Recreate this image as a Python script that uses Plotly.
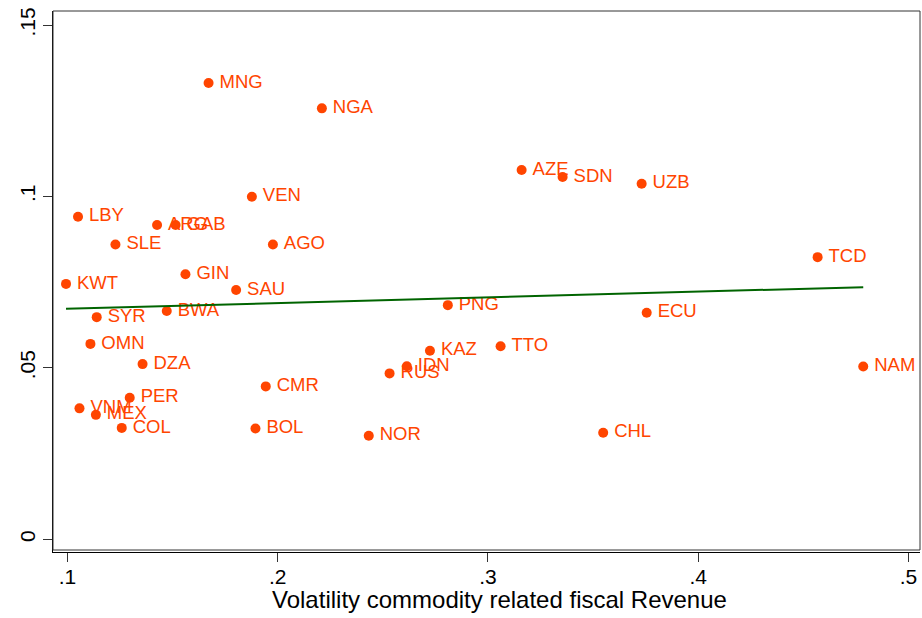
import numpy as np
import plotly.graph_objects as go

countries = ["MNG", "VEN", "LBY", "ARG", "GAB", "SLE", "AGO", "GIN", "KWT", "SAU",
             "BWA", "SYR", "OMN", "DZA", "CMR", "PER", "VNM", "MEX", "COL", "BOL",
             "NGA", "AZE", "SDN", "PNG", "KAZ", "TTO", "IDN", "RUS", "NOR", "CHL",
             "UZB", "TCD", "ECU", "NAM"]
volatility = [0.1671, 0.1877, 0.1050, 0.1426, 0.1514, 0.1228, 0.1977, 0.1561, 0.0993, 0.1802,
              0.1472, 0.1139, 0.1109, 0.1357, 0.1943, 0.1296, 0.1057, 0.1135, 0.1258, 0.1894,
              0.2210, 0.3160, 0.3355, 0.2809, 0.2724, 0.3060, 0.2614, 0.2532, 0.2433, 0.3548,
              0.3731, 0.4568, 0.3755, 0.4785]
yvalue = [0.1331, 0.0999, 0.0941, 0.0917, 0.0917, 0.0860, 0.0860, 0.0773, 0.0745, 0.0727,
          0.0666, 0.0648, 0.0570, 0.0511, 0.0446, 0.0413, 0.0382, 0.0363, 0.0325, 0.0323,
          0.1257, 0.1077, 0.1057, 0.0683, 0.0550, 0.0563, 0.0505, 0.0484, 0.0302, 0.0311,
          0.1037, 0.0823, 0.0661, 0.0504]

x_ticks = [0.1, 0.2, 0.3, 0.4, 0.5]
x_ticklabels = [".1", ".2", ".3", ".4", ".5"]
y_ticks = [0, 0.05, 0.1, 0.15]
y_ticklabels = ["0", ".05", ".1", ".15"]
x_title = "Volatility commodity related fiscal Revenue"

ORANGE = "rgb(255,69,0)"
GREEN = "rgb(0,100,0)"
FONT = "Liberation Sans, Arial, sans-serif"

xs = np.array(volatility)
ys = np.array(yvalue)
slope, intercept = np.polyfit(xs, ys, 1)
fit_x = np.array([xs.min(), xs.max()])
fit_y = intercept + slope * fit_x

fig = go.Figure()
fig.add_trace(go.Scatter(
    x=volatility, y=yvalue, mode="markers+text", text=countries,
    texttemplate="\u2009%{text}",
    textposition="middle right",
    textfont=dict(family=FONT, size=18.5, color=ORANGE),
    marker=dict(size=10, color=ORANGE),
    hoverinfo="skip", showlegend=False, cliponaxis=False))
fig.add_trace(go.Scatter(
    x=fit_x, y=fit_y, mode="lines", line=dict(color=GREEN, width=2),
    hoverinfo="skip", showlegend=False))

fig.update_layout(
    width=922, height=618,
    margin=dict(l=53, r=2, t=11, b=66),
    paper_bgcolor="white", plot_bgcolor="white",
    font=dict(family=FONT, color="black"),
    xaxis=dict(range=[0.0931, 0.5055], tickvals=x_ticks, ticktext=x_ticklabels,
               ticks="outside", ticklen=9, tickcolor="#333", tickwidth=1,
               showgrid=False, zeroline=False, showline=True, linecolor="black",
               linewidth=1, tickfont=dict(size=21), ticklabelstandoff=-3,
               ticklabeloverflow="allow"),
    yaxis=dict(range=[-0.0037, 0.1541], tickvals=y_ticks, ticktext=y_ticklabels,
               ticks="outside", ticklen=9, tickcolor="#333", tickwidth=1,
               tickangle=-90, showgrid=False, zeroline=False, showline=True,
               linecolor="black", linewidth=1, tickfont=dict(size=21),
               ticklabelstandoff=0, ticklabeloverflow="allow"),
    shapes=[dict(type="rect", xref="paper", yref="paper", x0=0, x1=1, y0=2/541, y1=1,
                 line=dict(color="#333", width=1), layer="above")],
    annotations=[dict(text=x_title, xref="paper", yref="paper", x=0.515, y=0,
                      xanchor="center", yanchor="middle", yshift=-47,
                      showarrow=False, font=dict(family=FONT, size=24, color="black"))],
)

fig.write_html("out.html", config={"displayModeBar": False}, post_script=(
    "document.body.style.margin='0';"
    "document.body.style.overflow='hidden';"
    "document.documentElement.style.overflow='hidden';"))
